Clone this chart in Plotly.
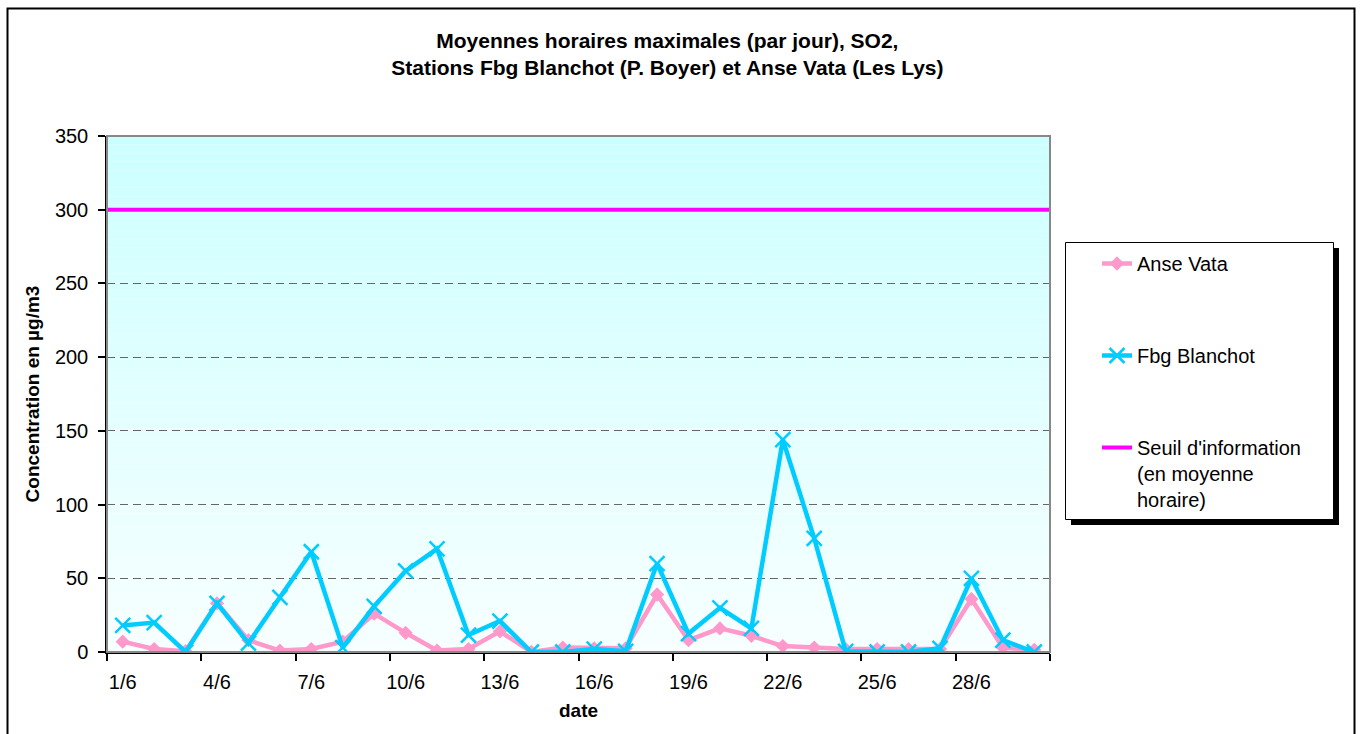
import plotly.graph_objects as go

dates = [f"{d}/6" for d in range(1, 31)]
anse_vata = [7, 2, 0.5, 33, 8, 1, 2, 7, 26, 13, 1, 2, 14, 0, 3, 2.5, 2.5, 39, 8, 16,
             11, 4, 3, 2, 2, 2, 2, 36, 3, 1.5]
fbg_blanchot = [18, 20, 0, 33, 6, 37, 68, 3, 31, 55, 70, 11.5, 21, 0, 0, 2, 0.5, 60, 12.5, 30,
                16, 144, 77, 0.5, 0, 0, 2.5, 50, 8, 0]
seuil = 300

title_text = ("Moyennes horaires maximales (par jour), SO2,<br>"
              "Stations Fbg Blanchot (P. Boyer) et Anse Vata (Les Lys)")

W, H = 1362, 734
L, R, T, B = 107, 1050, 136, 652  # plot area pixels
pw, ph = R - L, B - T

def px_x(x):
    return (x - L) / pw

def px_y(y):
    return (B - y) / ph

FONT = "Liberation Sans, Arial, sans-serif"

fig = go.Figure()

fig.add_trace(go.Scatter(
    x=dates, y=anse_vata, name="Anse Vata", mode="lines+markers",
    line=dict(color="#ff99cc", width=4.5),
    marker=dict(symbol="diamond", size=11, color="#ff99cc"),
    legendgroup="a",
))
fig.add_trace(go.Scatter(
    x=dates, y=fbg_blanchot, name="Fbg Blanchot", mode="lines+markers",
    line=dict(color="#00ccff", width=4.5),
    marker=dict(symbol="x-thin-open", size=15, color="#00ccff",
                line=dict(color="#00ccff", width=2.5)),
    legendgroup="b",
))
fig.add_trace(go.Scatter(
    x=[0, 1], y=[seuil, seuil], xaxis="x2", name="Seuil d'information<br>(en moyenne<br>horaire)",
    mode="lines", line=dict(color="#ff00ff", width=4),
    legendgroup="c",
))

shapes = []
# gradient background bands
n = 60
top = (204, 255, 255)
bot = (247, 255, 255)
for i in range(n):
    t = i / (n - 1)
    c = tuple(round(top[k] + (bot[k] - top[k]) * t) for k in range(3))
    shapes.append(dict(type="rect", xref="x domain", yref="y domain",
                       x0=0, x1=1, y0=1 - (i + 1) / n, y1=1 - i / n,
                       fillcolor=f"rgb{c}", line=dict(width=0), layer="below"))
# plot border (gray)
shapes.append(dict(type="rect", xref="paper", yref="paper", x0=0, x1=1, y0=0, y1=1,
                   line=dict(color="#888888", width=2), layer="above"))
# outer frame
shapes.append(dict(type="rect", xref="paper", yref="paper",
                   x0=px_x(7.5), x1=px_x(1354.5), y0=px_y(760), y1=px_y(8.5),
                   line=dict(color="black", width=2), layer="above"))
# legend shadow and box
shapes.append(dict(type="rect", xref="paper", yref="paper",
                   x0=px_x(1071), x1=px_x(1339), y0=px_y(525), y1=px_y(248),
                   fillcolor="black", line=dict(width=0), layer="above"))
shapes.append(dict(type="rect", xref="paper", yref="paper",
                   x0=px_x(1065.5), x1=px_x(1333.5), y0=px_y(519.5), y1=px_y(242.5),
                   fillcolor="white", line=dict(color="black", width=1), layer="above"))

fig.update_layout(
    width=W, height=H,
    margin=dict(l=L, r=W - R, t=T, b=H - B),
    paper_bgcolor="white",
    plot_bgcolor="rgba(0,0,0,0)",
    font=dict(family=FONT, size=20, color="black"),
    title=dict(text=title_text, x=0.49, xanchor="center", y=1 - 48 / H, yanchor="top",
               font=dict(family=FONT, size=21, color="black", weight="bold")),
    shapes=shapes,
    showlegend=True,
    legend=dict(x=px_x(1097), y=px_y(244), xanchor="left", yanchor="top",
                bgcolor="rgba(0,0,0,0)", borderwidth=0,
                font=dict(family=FONT, size=20, color="black"),
                tracegroupgap=63, valign="top"),
    xaxis=dict(
        type="category", range=[-0.5, 29.5], tickmode="linear", tick0=0, dtick=3,
        tickson="boundaries", ticks="outside", ticklen=7, tickwidth=1.5, tickcolor="black",
        showline=True, linecolor="black", linewidth=1.5, showgrid=False,
        tickfont=dict(size=20), ticklabelstandoff=11, tickangle=0,
        title=dict(text="date", font=dict(size=19, weight="bold"), standoff=12),
        fixedrange=True,
    ),
    xaxis2=dict(overlaying="x", range=[0, 1], visible=False, fixedrange=True),
    yaxis=dict(
        range=[0, 350], tickmode="linear", tick0=0, dtick=50,
        ticks="outside", ticklen=7, tickwidth=1.5, tickcolor="black",
        showline=True, linecolor="black", linewidth=1.5,
        showgrid=True, gridcolor="#666666", gridwidth=1, griddash="8px,5px",
        zeroline=False, tickfont=dict(size=20), ticklabelstandoff=6,
        title=dict(text="Concentration en µg/m3", font=dict(size=19, weight="bold"), standoff=10),
        fixedrange=True,
    ),
)

fig.write_html("out.html", config={"displayModeBar": False},
               post_script="document.body.style.margin='0';")
